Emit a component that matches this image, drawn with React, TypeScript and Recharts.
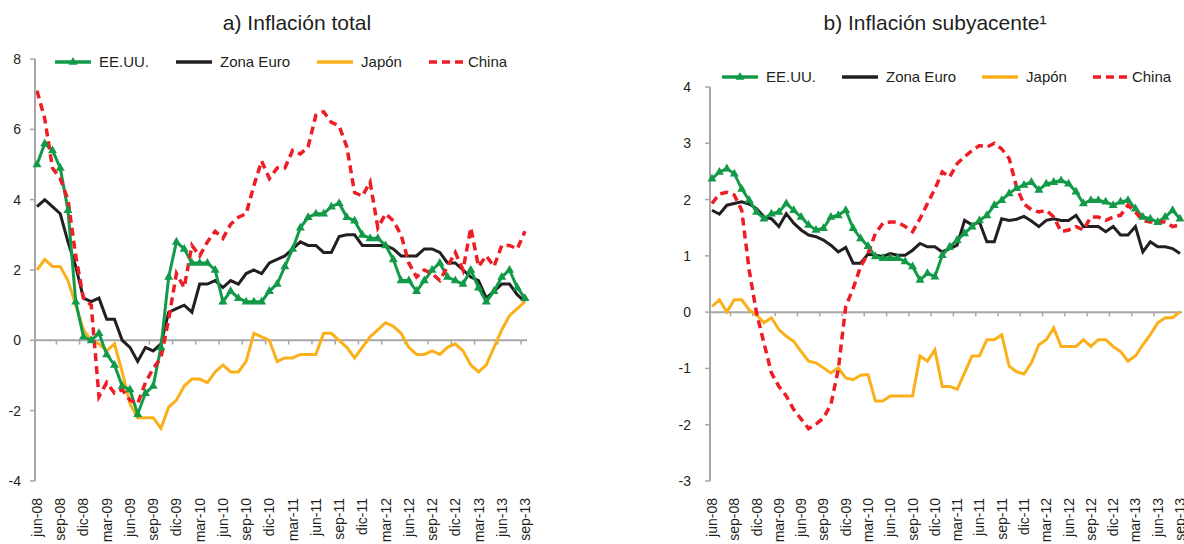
import React from "react";
import { LineChart, Line, XAxis, YAxis, ReferenceLine, Legend } from "recharts";

const FONT = '"Liberation Sans", Arial, Helvetica, sans-serif';
const INK = "#231F20";
const AXIS = "#A6A6A6";

// categories: jun-08 ... sep-13
const monthNames = ["ene", "feb", "mar", "abr", "may", "jun", "jul", "ago", "sep", "oct", "nov", "dic"];
const years = ["08", "09", "10", "11", "12", "13"];
const months: string[] = years.flatMap((y) => monthNames.map((m) => `${m}-${y}`)).slice(5, 69);

// a) Inflación total
const totalUS = [
  5.0, 5.6, 5.4, 4.9, 3.7, 1.1, 0.1,
  0.0, 0.2, -0.4, -0.7, -1.3, -1.4, -2.1, -1.5, -1.3, -0.2, 1.8, 2.8,
  2.6, 2.2, 2.2, 2.2, 2.0, 1.1, 1.4, 1.2, 1.1, 1.1, 1.1, 1.4, 1.6, 2.1, 2.6, 3.2, 3.5, 3.6, 3.6, 3.8, 3.9, 3.5, 3.4, 3.0,
  2.9, 2.9, 2.7, 2.3, 1.7, 1.7, 1.4, 1.7, 2.0, 2.2, 1.8, 1.7,
  1.6, 2.0, 1.5, 1.1, 1.4, 1.8, 2.0, 1.5, 1.2,
];
const totalEuro = [
  3.8, 4.0, 3.8, 3.6, 2.8, 2.1, 1.2,
  1.1, 1.2, 0.6, 0.6, 0.0, -0.2, -0.6, -0.2, -0.3, -0.1, 0.8, 0.9,
  1.0, 0.8, 1.6, 1.6, 1.7, 1.5, 1.7, 1.6, 1.9, 2.0, 1.9, 2.2, 2.3, 2.4, 2.6, 2.8, 2.7, 2.7, 2.5, 2.5, 2.95, 3.0, 3.0, 2.7,
  2.7, 2.7, 2.7, 2.6, 2.4, 2.4, 2.4, 2.6, 2.6, 2.5, 2.2, 2.2,
  2.0, 1.8, 1.7, 1.2, 1.4, 1.6, 1.6, 1.3, 1.1,
];
const totalJapan = [
  2.0, 2.3, 2.1, 2.1, 1.7, 1.0, 0.3,
  0.0, -0.1, -0.3, -0.1, -0.9, -1.8, -2.2, -2.2, -2.2, -2.5, -1.9, -1.7,
  -1.3, -1.1, -1.1, -1.2, -0.9, -0.7, -0.9, -0.9, -0.6, 0.2, 0.1, 0.0, -0.6, -0.5, -0.5, -0.4, -0.4, -0.4, 0.2, 0.2, 0.0, -0.2, -0.5, -0.2,
  0.1, 0.3, 0.5, 0.4, 0.2, -0.2, -0.4, -0.4, -0.3, -0.4, -0.2, -0.1,
  -0.3, -0.7, -0.9, -0.7, -0.2, 0.3, 0.7, 0.9, 1.1,
];
const totalChina = [
  7.1, 6.3, 4.9, 4.6, 4.0, 2.4, 1.2,
  1.0, -1.6, -1.2, -1.5, -1.4, -1.7, -1.8, -1.2, -0.8, -0.5, 0.6, 1.9,
  1.5, 2.7, 2.4, 2.8, 3.1, 2.9, 3.3, 3.5, 3.6, 4.4, 5.1, 4.6, 4.9, 4.9, 5.4, 5.3, 5.5, 6.4, 6.5, 6.2, 6.1, 5.5, 4.2, 4.1,
  4.5, 3.2, 3.6, 3.4, 3.0, 2.2, 1.8, 2.0, 1.9, 1.7, 2.1, 2.5,
  2.0, 3.2, 2.1, 2.4, 2.1, 2.7, 2.7, 2.6, 3.1,
];

// b) Inflación subyacente
const coreUS = [
  2.37, 2.49, 2.55, 2.46, 2.19, 1.99, 1.78, 1.66, 1.75, 1.78, 1.93, 1.81, 1.69, 1.55, 1.46, 1.49, 1.69, 1.72, 1.81, 1.49, 1.31, 1.17,
  0.99, 0.96, 0.96, 0.96, 0.9, 0.81, 0.57, 0.69, 0.63, 1.01, 1.16, 1.28, 1.4, 1.52, 1.63, 1.72, 1.9, 1.99, 2.11, 2.2, 2.26, 2.31,
  2.17, 2.28, 2.31, 2.34, 2.28, 2.14, 1.93, 1.99, 1.99, 1.96, 1.9, 1.96, 1.99, 1.84, 1.69, 1.66, 1.6, 1.69, 1.81, 1.66,
];
const coreEuro = [
  1.81, 1.74, 1.9, 1.93, 1.96, 1.92, 1.84, 1.69, 1.66, 1.52, 1.75, 1.58, 1.46, 1.37, 1.34, 1.28, 1.19, 1.07, 1.15, 0.87, 0.87, 1.03,
  1.01, 0.99, 1.04, 1.01, 1.01, 1.1, 1.22, 1.16, 1.16, 1.07, 1.13, 1.19, 1.63, 1.55, 1.6, 1.25, 1.25, 1.66, 1.63, 1.65, 1.7, 1.62,
  1.52, 1.63, 1.66, 1.63, 1.63, 1.72, 1.52, 1.52, 1.52, 1.43, 1.52, 1.37, 1.37, 1.52, 1.07, 1.25, 1.16, 1.16, 1.13, 1.04,
];
const coreJapan = [
  0.1, 0.22, 0.0, 0.22, 0.22, 0.04, -0.05, -0.19, -0.1, -0.31, -0.43, -0.52, -0.7, -0.87, -0.9, -0.99, -1.08, -0.99, -1.17, -1.2, -1.12, -1.11,
  -1.58, -1.58, -1.49, -1.49, -1.49, -1.49, -0.78, -0.87, -0.67, -1.32, -1.32, -1.37, -1.08, -0.78, -0.78, -0.49, -0.49, -0.4, -0.96, -1.06, -1.1, -0.9,
  -0.58, -0.49, -0.28, -0.61, -0.61, -0.61, -0.49, -0.61, -0.49, -0.49, -0.61, -0.7, -0.87, -0.78, -0.58, -0.4, -0.19, -0.1, -0.1, 0.01,
];
const coreChina = [
  1.93, 2.1, 2.13, 2.08, 1.81, 0.75, -0.02, -0.55, -1.08, -1.32, -1.49, -1.73, -1.9, -2.07, -1.99, -1.88, -1.64, -1.02, 0.1, 0.42, 0.81, 1.04,
  1.4, 1.58, 1.6, 1.6, 1.52, 1.43, 1.66, 1.93, 2.19, 2.49, 2.4, 2.64, 2.76, 2.87, 2.96, 2.93, 3.0, 2.9, 2.73, 2.22, 1.92, 1.82,
  1.78, 1.81, 1.69, 1.43, 1.46, 1.52, 1.46, 1.69, 1.69, 1.63, 1.69, 1.72, 1.9, 1.78, 1.63, 1.6, 1.6, 1.6, 1.52, 1.55,
];

const totalTicks = [-4, -2, 0, 2, 4, 6, 8];
const coreTicks = [-3, -2, -1, 0, 1, 2, 3, 4];

type Series = { key: string; name: string; color: string; dash?: string; marker?: boolean };

const series: Series[] = [
  { key: "us", name: "EE.UU.", color: "#129A48", marker: true },
  { key: "euro", name: "Zona Euro", color: INK },
  { key: "japan", name: "Japón", color: "#FBB01B" },
  { key: "china", name: "China", color: "#EE1D25", dash: "8 5" },
];
// drawing order (last on top)
const drawOrder = ["euro", "japan", "us", "china"];

const totalData = months.map((m, i) => ({
  idx: i, month: m, us: totalUS[i], euro: totalEuro[i], japan: totalJapan[i], china: totalChina[i],
}));
const coreData = months.map((m, i) => ({
  idx: i, month: m, us: coreUS[i], euro: coreEuro[i], japan: coreJapan[i], china: coreChina[i],
}));

const labelTicks = months.map((_, i) => i).filter((i) => i % 3 === 0);
// small marks on the zero line, between categories
const zeroMarks = labelTicks.slice(0, -1).map((i) => i + 2.5);

function MonthTick({ x, y, payload }: any) {
  return (
    <text
      x={x}
      y={y}
      transform={`rotate(-90 ${x} ${y})`}
      textAnchor="end"
      dominantBaseline="central"
      fontSize={14}
      fontFamily={FONT}
      fill={INK}
    >
      {months[payload.value]}
    </text>
  );
}

function Triangle({ cx, cy, color }: any) {
  if (cx == null || cy == null) return <g />;
  return <path d={`M${cx},${cy - 5} L${cx + 4.5},${cy + 2.8} L${cx - 4.5},${cy + 2.8} Z`} fill={color} />;
}

function LegendRow({ gap }: { gap: number }) {
  return (
    <div style={{ display: "flex", alignItems: "center", gap, fontFamily: FONT, fontSize: 15, color: INK, whiteSpace: "nowrap" }}>
      {series.map((s) => (
        <div key={s.key} style={{ display: "flex", alignItems: "center" }}>
          <svg width={36} height={12}>
            <line x1={0} y1={6} x2={36} y2={6} stroke={s.color} strokeWidth={3.5} strokeDasharray={s.dash} />
            {s.marker && <path d="M18,1 L22.5,8.8 L13.5,8.8 Z" fill={s.color} />}
          </svg>
          <span style={{ marginLeft: s.dash ? 3 : 8 }}>{s.name}</span>
        </div>
      ))}
    </div>
  );
}

type PanelProps = {
  data: object[];
  width: number;
  top: number;
  marginLeft: number;
  marginRight: number;
  domain: [number, number];
  yTicks: number[];
  yTickMargin: number;
  markLen: number;
  legendTop: number;
  legendLeft: number;
  legendGap: number;
};

function Panel(p: PanelProps) {
  return (
    <LineChart
      width={p.width}
      height={544}
      data={p.data}
      margin={{ top: p.top, right: p.marginRight, bottom: 0, left: p.marginLeft }}
    >
      <XAxis
        dataKey="idx"
        type="number"
        domain={[0, 63]}
        ticks={labelTicks}
        interval={0}
        axisLine={false}
        tickLine={false}
        tickSize={0}
        tickMargin={17}
        height={63}
        padding={{ left: 2, right: 2 }}
        tick={MonthTick}
      />
      <YAxis
        type="number"
        domain={p.domain}
        ticks={p.yTicks}
        interval={0}
        width={30}
        axisLine={{ stroke: AXIS, strokeWidth: 2 }}
        tickLine={{ stroke: AXIS, strokeWidth: 1.5 }}
        tickSize={5}
        tickMargin={p.yTickMargin}
        tick={{ fontSize: 14, fill: INK, fontFamily: FONT }}
      />
      <ReferenceLine y={0} stroke={AXIS} strokeWidth={2} />
      {zeroMarks.map((m) => (
        <ReferenceLine
          key={m}
          segment={[{ x: m, y: 0 }, { x: m, y: -p.markLen }]}
          stroke={AXIS}
          strokeWidth={1.5}
        />
      ))}
      <Legend
        layout="horizontal"
        verticalAlign="middle"
        align="center"
        wrapperStyle={{ top: p.legendTop, left: p.legendLeft, width: "auto" }}
        content={() => <LegendRow gap={p.legendGap} />}
      />
      {drawOrder.map((k) => {
        const s = series.find((x) => x.key === k)!;
        return (
          <Line
            key={s.key}
            type="linear"
            dataKey={s.key}
            name={s.name}
            stroke={s.color}
            strokeWidth={s.dash ? 3.5 : 3}
            strokeDasharray={s.dash}
            dot={s.marker ? (d: any) => <Triangle key={d.index} cx={d.cx} cy={d.cy} color={s.color} /> : false}
            activeDot={false}
            isAnimationActive={false}
          />
        );
      })}
    </LineChart>
  );
}

const titleStyle = (center: number): React.CSSProperties => ({
  position: "absolute",
  left: center - 200,
  width: 400,
  top: 12,
  textAlign: "center",
  fontFamily: FONT,
  fontSize: 21,
  lineHeight: "21px",
  color: INK,
});

export default function App() {
  return (
    <div style={{ position: "absolute", left: 0, top: 0, width: 1184, height: 544, background: "#fff", overflow: "hidden" }}>
      <div style={titleStyle(297)}>a) Inflación total</div>
      <div style={titleStyle(935)}>b) Inflación subyacente¹</div>
      <div style={{ position: "absolute", left: 0, top: 0 }}>
        <Panel
          data={totalData}
          width={540}
          top={59}
          marginLeft={5}
          marginRight={13}
          domain={[-4, 8]}
          yTicks={totalTicks}
          yTickMargin={9}
          markLen={0.12}
          legendTop={53}
          legendLeft={55}
          legendGap={27}
        />
      </div>
      <div style={{ position: "absolute", left: 640, top: 0 }}>
        <Panel
          data={coreData}
          width={544}
          top={87}
          marginLeft={40}
          marginRight={2}
          domain={[-3, 4]}
          yTicks={coreTicks}
          yTickMargin={14}
          markLen={0.075}
          legendTop={68}
          legendLeft={82}
          legendGap={26}
        />
      </div>
    </div>
  );
}
